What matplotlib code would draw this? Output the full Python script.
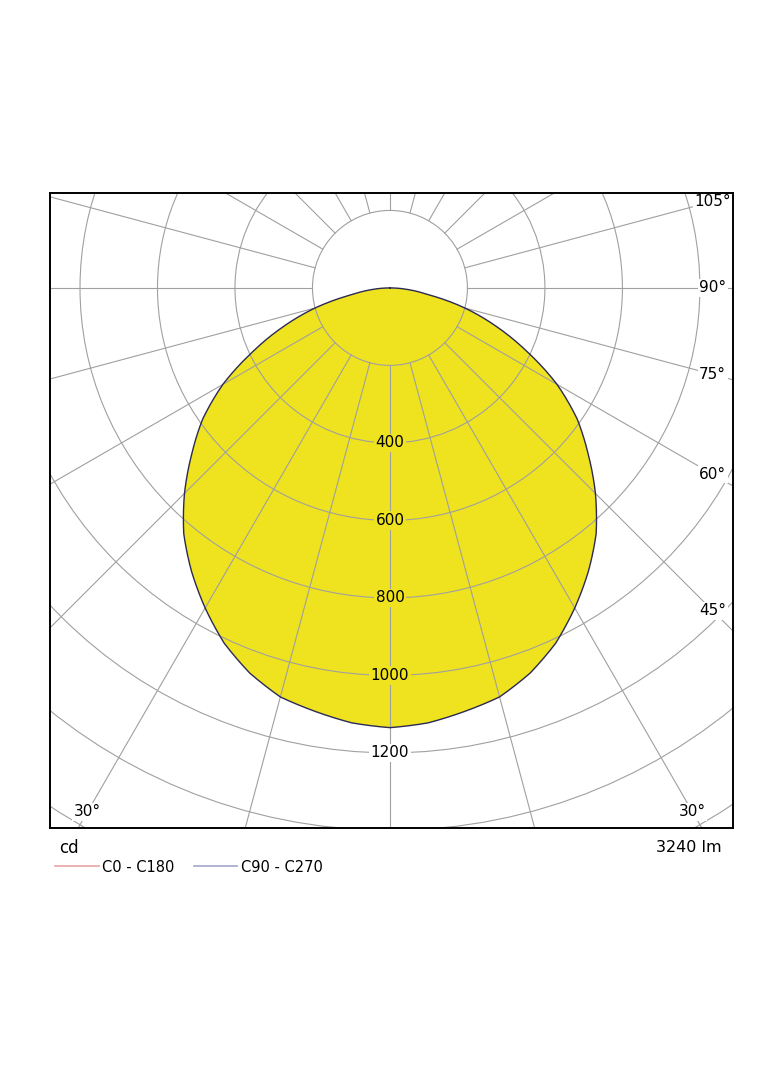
import numpy as np
import matplotlib.pyplot as plt
from matplotlib.patches import Circle
from matplotlib.lines import Line2D

# luminous intensity (cd) vs angle from nadir (deg), symmetric curve
gamma = [0, 5, 10, 15, 20, 25, 30, 35, 40, 45, 50, 55, 60, 65, 70, 75, 80, 85, 90]
intensity = [1135, 1127, 1110, 1093, 1058, 1012, 954, 893, 828, 750,
             668, 590, 498, 392, 294, 200, 100, 45, 0]

ring_values = [200, 400, 600, 800, 1000, 1200, 1400, 1600, 1800]
ring_labels = [400, 600, 800, 1000, 1200]
spoke_angles = list(range(0, 360, 15))
angle_labels = [30, 45, 60, 75, 90, 105, -30]
flux_text = "3240 lm"
unit_text = "cd"
series_names = ["C0 - C180", "C90 - C270"]
series_colors = ["#e8a4a4", "#a4a4cc"]

yellow = "#efe21f"
outline = "#2a2a55"
grid_c = "#a0a0a0"

xmin, xmax, ymin, ymax = -877, 885, -1394, 245

fig = plt.figure(figsize=(7.84, 10.66), dpi=100)
ax = fig.add_axes([50/784, (1066-828)/1066, 683/784, 635/1066])
ax.set_xlim(xmin, xmax)
ax.set_ylim(ymin, ymax)
ax.set_aspect('equal')
ax.set_xticks([])
ax.set_yticks([])
for s in ax.spines.values():
    s.set_linewidth(1.4)
    s.set_color('black')
    s.set_zorder(10)

# curve, mirrored for the left half; segments drawn straight in (angle, r)
# space like a polar axes does
gf = np.linspace(-90, 90, 721)
I = np.interp(np.abs(gf), gamma, intensity)
g = np.radians(gf)
cx = I * np.sin(g)
cy = -I * np.cos(g)
ax.fill(cx, cy, color=yellow, zorder=1, lw=0)

# grid
for r in ring_values:
    ax.add_patch(Circle((0, 0), r, fill=False, ec=grid_c, lw=0.8, zorder=2))
for a in spoke_angles:
    t = np.radians(a)
    ax.plot([200*np.sin(t), 2500*np.sin(t)], [-200*np.cos(t), -2500*np.cos(t)],
            color=grid_c, lw=0.8, zorder=2)

ax.plot(cx, cy, color=outline, lw=1.0, zorder=3)

# ring labels along nadir
for r in ring_labels:
    fc = yellow if r < intensity[0] else 'white'
    ax.text(0, -r, str(r), ha='center', va='center', fontsize=11, zorder=5,
            bbox=dict(boxstyle='square,pad=0.12', fc=fc, ec='none'))

# angle labels near the frame
inset_x, inset_y = 52, 42
for a in angle_labels:
    t = np.radians(a)
    dx, dy = np.sin(t), -np.cos(t)
    ts = []
    if dx > 1e-9:
        ts.append((xmax - inset_x) / dx)
    if dx < -1e-9:
        ts.append((xmin + inset_x) / dx)
    if dy < -1e-9:
        ts.append((ymin + inset_y) / dy)
    k = min(ts)
    ax.text(k*dx, k*dy, f"{abs(a)}°", ha='center', va='center', fontsize=11,
            zorder=5, bbox=dict(boxstyle='square,pad=0.1', fc='white', ec='none'))

fig.text(59/784, 1 - 848/1066, unit_text, ha='left', va='center', fontsize=12)
fig.text(722/784, 1 - 848/1066, flux_text, ha='right', va='center', fontsize=11.5)

handles = [Line2D([], [], color=c, lw=1.2) for c in series_colors]
fig.legend(handles, series_names, loc='center left',
           bbox_to_anchor=(55/784, 1 - 867/1066), ncol=2, frameon=False,
           fontsize=10.5, handlelength=3.0, handletextpad=0.25,
           columnspacing=1.3, borderpad=0, borderaxespad=0)

fig.savefig("out.png", dpi=100)
